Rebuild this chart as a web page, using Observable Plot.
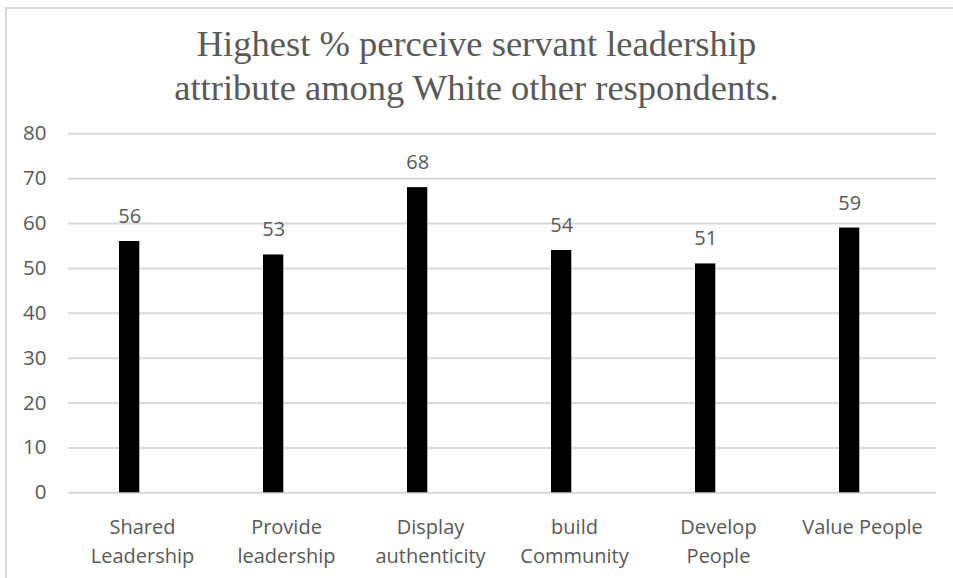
<!DOCTYPE html>
<html>
<head>
<meta charset="utf-8">
<script src="https://cdn.jsdelivr.net/npm/d3@7"></script>
<script src="https://cdn.jsdelivr.net/npm/@observablehq/plot@0.6"></script>
<style>
  html, body { margin: 0; padding: 0; background: #fff; }
  #wrap { position: relative; width: 953px; height: 578px; overflow: hidden; }
  #frame { position: absolute; left: 5px; top: 7px; width: 960px; height: 600px;
           border-top: 2px solid #d9d9d9; border-left: 2px solid #d9d9d9; box-sizing: border-box; }
  #title { position: absolute; left: 0; top: 0; width: 953px; height: 110px; text-align: center;
           font-family: "Liberation Serif", "Times New Roman", serif; font-size: 36.5px; color: #595959; }
  #title div { position: absolute; left: 0; width: 953px; }
  #chart { position: absolute; left: 0; top: 110px; }
</style>
</head>
<body>
<div id="wrap">
  <div id="frame"></div>
  <div id="title">
    <div style="top:22px">Highest % perceive servant leadership</div>
    <div style="top:66px">attribute among White other respondents.</div>
  </div>
  <div id="chart"></div>
</div>
<script>
const categories = ["Shared Leadership", "Provide leadership", "Display authenticity", "build Community", "Develop People", "Value People"];
const tickLabels = ["Shared\nLeadership", "Provide\nleadership", "Display\nauthenticity", "build\nCommunity", "Develop\nPeople", "Value People"];
const values = [56, 53, 68, 54, 51, 59];
const yTicks = [0, 10, 20, 30, 40, 50, 60, 70, 80];

const data = categories.map((c, i) => ({category: c, value: values[i]}));
const labelOf = new Map(categories.map((c, i) => [c, tickLabels[i]]));

const chart = Plot.plot({
  width: 953,
  height: 468,
  marginLeft: 68,
  marginRight: 17,
  marginTop: 23.3,
  marginBottom: 85.7,
  style: {fontFamily: "'Open Sans', sans-serif", fontSize: "20px", color: "#595959", background: "transparent"},
  x: {domain: categories, padding: 0, label: null},
  y: {domain: [0, 80], label: null},
  marks: [
    Plot.ruleY(yTicks, {stroke: "#d9d9d9", strokeWidth: 2}),
    Plot.barY(data, {x: "category", y: "value", fill: "#000", insetLeft: 49, insetRight: 74.7}),
    Plot.text(data, {x: "category", y: "value", text: d => String(d.value), dx: -12.8, dy: -18.5,
                     lineAnchor: "bottom", fill: "#595959", fontSize: 20}),
    Plot.axisY({ticks: yTicks, tickSize: 0, tickPadding: 22, fontSize: 20.5, fill: "#595959", label: null}),
    Plot.axisX({tickSize: 0, tickPadding: 21, fontSize: 20, fill: "#595959", lineHeight: 1.45,
                tickFormat: d => labelOf.get(d), label: null})
  ]
});
document.getElementById("chart").appendChild(chart);
</script>
</body>
</html>
